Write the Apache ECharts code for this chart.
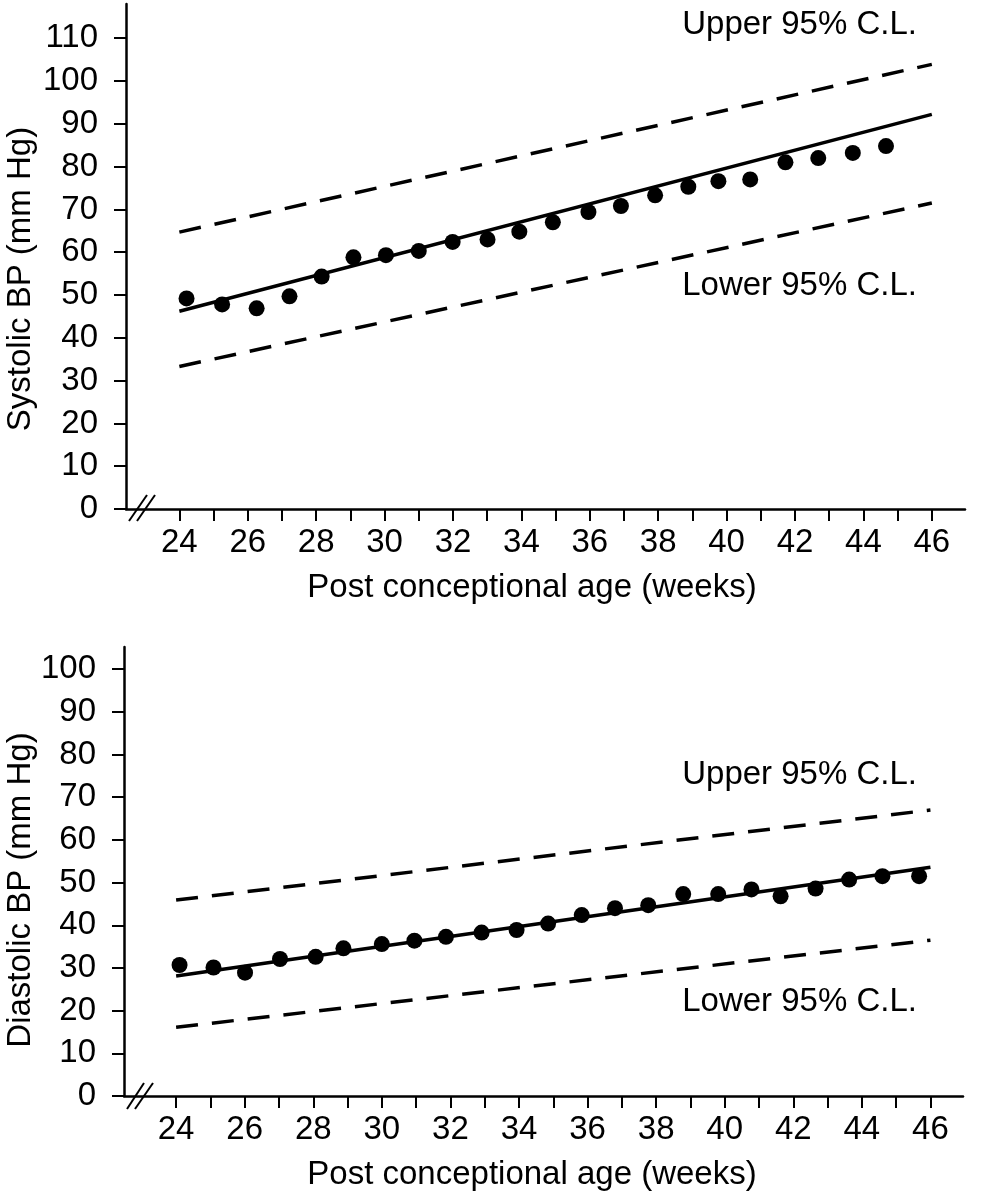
<!DOCTYPE html>
<html>
<head>
<meta charset="utf-8">
<script src="https://cdn.jsdelivr.net/npm/echarts@6/dist/echarts.min.js"></script>
<style>
html,body{margin:0;padding:0;background:#fff;}
#c{width:1001px;height:1196px;}
</style>
</head>
<body>
<div id="c"></div>
<script>
// ---- Data ----
const sysAge = [24.21,25.25,26.26,27.22,28.16,29.09,30.04,31.0,31.99,33.01,33.94,34.92,35.96,36.91,37.91,38.88,39.76,40.69,41.72,42.68,43.69,44.66];
const sysBP  = [49.2,47.8,46.9,49.7,54.3,58.8,59.3,60.3,62.4,63.0,64.8,67.0,69.4,70.8,73.3,75.3,76.6,77.0,81.0,82.0,83.2,84.8];
const sysLineAge = [24, 46];
const sysFit   = [46.2, 92.2];
const sysUpper = [64.7, 103.9];
const sysLower = [33.3, 71.5];

const diaAge = [24.10,25.09,26.01,27.03,28.07,28.88,30.0,30.95,31.87,32.91,33.93,34.85,35.83,36.80,37.77,38.79,39.81,40.78,41.63,42.65,43.63,44.60,45.67];
const diaBP  = [30.7,30.1,28.9,32.1,32.6,34.6,35.6,36.4,37.3,38.3,38.9,40.4,42.4,44.0,44.7,47.3,47.3,48.4,46.8,48.6,50.7,51.5,51.5];
const diaLineAge = [24, 46];
const diaFit   = [28.1, 53.6];
const diaUpper = [45.9, 67.0];
const diaLower = [16.1, 36.5];

const xTickValues  = [24,25,26,27,28,29,30,31,32,33,34,35,36,37,38,39,40,41,42,43,44,45,46];
const xLabelValues = [24,26,28,30,32,34,36,38,40,42,44,46];
const sysYLabels = [0,10,20,30,40,50,60,70,80,90,100,110];
const diaYLabels = [0,10,20,30,40,50,60,70,80,90,100];

const xTitle = 'Post conceptional age (weeks)';
const sysTitle = 'Systolic BP (mm Hg)';
const diaTitle = 'Diastolic BP (mm Hg)';
const upperLabel = 'Upper 95% C.L.';
const lowerLabel = 'Lower 95% C.L.';

// ---- Chart ----
const FONT = '"Liberation Sans", Arial, Helvetica, sans-serif';
const pair = (xs, ys) => xs.map((x, i) => [x, ys[i]]);

function xAxisCfg(gridIndex, min, max) {
  return {
    type: 'value', gridIndex, min, max,
    axisLine: {show: true, onZero: false, lineStyle: {color: '#000', width: 2.5}},
    axisTick: {show: true, length: 12, customValues: xTickValues, lineStyle: {color: '#000', width: 2}},
    axisLabel: {show: true, margin: 17, customValues: xLabelValues, color: '#000', fontSize: 33, fontFamily: FONT},
    splitLine: {show: false}
  };
}
function yAxisCfg(gridIndex, max, labels) {
  return {
    type: 'value', gridIndex, min: 0, max,
    axisLine: {show: true, onZero: false, lineStyle: {color: '#000', width: 2.5}},
    axisTick: {show: true, length: 12, customValues: labels, lineStyle: {color: '#000', width: 2}},
    axisLabel: {show: true, margin: 28, customValues: labels, color: '#000', fontSize: 33, fontFamily: FONT},
    splitLine: {show: false}
  };
}
function lineSeries(idx, xs, ys, dashed) {
  return {
    type: 'line', xAxisIndex: idx, yAxisIndex: idx, data: pair(xs, ys),
    symbol: 'none', silent: true, animation: false,
    lineStyle: {color: '#000', width: 3.5, type: dashed ? [22, 14] : 'solid'}
  };
}
function scatterSeries(idx, xs, ys) {
  return {
    type: 'scatter', xAxisIndex: idx, yAxisIndex: idx, data: pair(xs, ys),
    symbol: 'circle', symbolSize: 16, animation: false, z: 5,
    itemStyle: {color: '#000', opacity: 1}
  };
}
function txt(x, y, text, opts) {
  return {
    type: 'text', x, y,
    style: Object.assign({text, fill: '#000', font: '33px ' + FONT, align: 'center', verticalAlign: 'middle'}, opts || {})
  };
}
function slash(x1, y1, x2, y2) {
  return {type: 'line', shape: {x1, y1, x2, y2}, style: {stroke: '#000', lineWidth: 2}};
}

const chart = echarts.init(document.getElementById('c'), null, {renderer: 'canvas'});
chart.setOption({
  backgroundColor: '#fff',
  animation: false,
  grid: [
    {left: 126, top: 4, width: 839, height: 505},
    {left: 124, top: 647, width: 839, height: 449}
  ],
  xAxis: [xAxisCfg(0, 22.44, 46.97), xAxisCfg(1, 22.48, 46.95)],
  yAxis: [yAxisCfg(0, 118, sysYLabels), yAxisCfg(1, 105.2, diaYLabels)],
  series: [
    lineSeries(0, sysLineAge, sysFit, false),
    lineSeries(0, sysLineAge, sysUpper, true),
    lineSeries(0, sysLineAge, sysLower, true),
    scatterSeries(0, sysAge, sysBP),
    lineSeries(1, diaLineAge, diaFit, false),
    lineSeries(1, diaLineAge, diaUpper, true),
    lineSeries(1, diaLineAge, diaLower, true),
    scatterSeries(1, diaAge, diaBP)
  ],
  graphic: [
    Object.assign(txt(21, 279, sysTitle), {rotation: Math.PI / 2}),
    txt(532, 588, xTitle),
    txt(917, 25, upperLabel, {align: 'right'}),
    txt(917, 286, lowerLabel, {align: 'right'}),
    Object.assign(txt(21, 890, diaTitle), {rotation: Math.PI / 2}),
    txt(532, 1175, xTitle),
    txt(917, 775, upperLabel, {align: 'right'}),
    txt(917, 1002, lowerLabel, {align: 'right'}),
    // axis break marks
    {type: 'rect', shape: {x: 130, y: 504, width: 22, height: 10}, style: {fill: '#fff'}},
    slash(129, 521, 147, 495),
    slash(137, 521, 155, 495),
    {type: 'rect', shape: {x: 128, y: 1091, width: 22, height: 10}, style: {fill: '#fff'}},
    slash(127, 1109, 144, 1083),
    slash(135, 1109, 153, 1083)
  ]
});
</script>
</body>
</html>
